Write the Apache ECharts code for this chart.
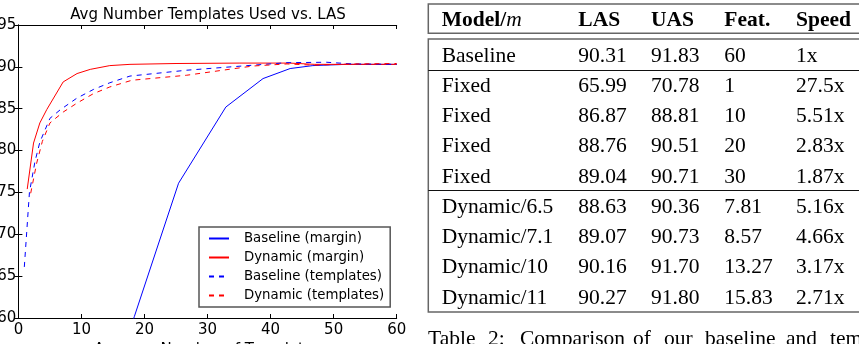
<!DOCTYPE html>
<html>
<head>
<meta charset="utf-8">
<script src="https://cdn.jsdelivr.net/npm/echarts@6/dist/echarts.min.js"></script>
<style>
html,body{margin:0;padding:0;background:#fff;}
#chart{width:859px;height:344px;}
</style>
</head>
<body>
<div id="chart"></div>
<script>
// ---- chart data ----
const chartTitle = 'Avg Number Templates Used vs. LAS';
const xAxisName = 'Average Number of Templates';
const seriesNames = ['Baseline (margin)', 'Dynamic (margin)', 'Baseline (templates)', 'Dynamic (templates)'];
const baselineMargin = [[14, 50.2], [18.4, 60.2], [25.4, 76.1], [32.9, 85.2], [38.8, 88.6], [43.1, 89.8], [46.7, 90.15], [52, 90.3], [60, 90.3]];
const dynamicMargin = [[1.4, 75.4], [2.4, 80.9], [3.4, 83.3], [4.5, 84.9], [7.1, 88.2], [9.3, 89.2], [11.4, 89.7], [14.5, 90.15], [17.7, 90.3], [25, 90.4], [35, 90.45], [43, 90.45], [47, 90.3], [60, 90.3]];
const baselineTemplates = [[0.94, 66.1], [1.75, 75.0], [2.63, 78.7], [3.4, 81.0], [5.0, 83.85], [6.6, 84.85], [9.25, 86.25], [11.9, 87.3], [14.5, 88.1], [17.7, 88.9], [26.7, 89.6], [37.2, 90.2], [42.6, 90.5], [48.9, 90.55], [53, 90.35], [60, 90.3]];
const dynamicTemplates = [[1.95, 74.9], [2.9, 78.5], [3.8, 81.1], [5.0, 83.3], [7.1, 84.6], [9.25, 85.65], [11.9, 86.8], [14.5, 87.6], [18, 88.4], [26.7, 89.0], [37.2, 90.1], [42.6, 90.35], [46.8, 90.2], [53, 90.35], [60, 90.4]];

// ---- table data ----
const tableHeader = ['{b|Model/}{i|m}', 'LAS', 'UAS', 'Feat.', 'Speed'];
const tableModels = ['Baseline', 'Fixed', 'Fixed', 'Fixed', 'Fixed', 'Dynamic/6.5', 'Dynamic/7.1', 'Dynamic/10', 'Dynamic/11'];
const tableLAS = ['90.31', '65.99', '86.87', '88.76', '89.04', '88.63', '89.07', '90.16', '90.27'];
const tableUAS = ['91.83', '70.78', '88.81', '90.51', '90.71', '90.36', '90.73', '91.70', '91.80'];
const tableFeat = ['60', '1', '10', '20', '30', '7.81', '8.57', '13.27', '15.83'];
const tableSpeed = ['1x', '27.5x', '5.51x', '2.83x', '1.87x', '5.16x', '4.66x', '3.17x', '2.71x'];
const captionWords = ['Table', '2:', 'Comparison', 'of', 'our', 'baseline', 'and', 'tem'];

// ---- layout ----
const sans = 'DejaVu Sans';
const serif = 'Liberation Serif';
const colX = [441.7, 578.3, 651, 724.3, 796];
const headerY = 20;
const rowY0 = 56, rowStep = 30.25;
const captionX = [428, 488, 520, 633, 664, 705, 786, 830];
const tFont = 21.5;

const chart = echarts.init(document.getElementById('chart'), null, {renderer: 'canvas'});

const graphic = [];
graphic.push({type: 'text', x: 208, y: 15, style: {text: chartTitle, font: '15px "DejaVu Sans"', fill: '#000', align: 'center', verticalAlign: 'middle'}});
// table boxes
graphic.push({type: 'rect', shape: {x: 428.3, y: 4, width: 480, height: 29.3}, style: {fill: 'none', stroke: '#666', lineWidth: 1.5}});
graphic.push({type: 'rect', shape: {x: 428.3, y: 39, width: 480, height: 273}, style: {fill: 'none', stroke: '#666', lineWidth: 1.5}});
graphic.push({type: 'line', shape: {x1: 428.3, y1: 70.5, x2: 859, y2: 70.5}, style: {stroke: '#111', lineWidth: 1}});
graphic.push({type: 'line', shape: {x1: 428.3, y1: 190.5, x2: 859, y2: 190.5}, style: {stroke: '#111', lineWidth: 1}});
// header
tableHeader.forEach((h, i) => {
  graphic.push({type: 'text', x: colX[i], y: headerY, style: {
    text: h, fontFamily: serif, fontSize: tFont, fontWeight: 'bold', fill: '#000', align: 'left', verticalAlign: 'middle',
    rich: {b: {fontFamily: serif, fontSize: tFont, fontWeight: 'bold', fill: '#000'}, i: {fontFamily: serif, fontSize: tFont, fontStyle: 'italic', fill: '#000'}}
  }});
});
const cols = [tableModels, tableLAS, tableUAS, tableFeat, tableSpeed];
tableModels.forEach((_, r) => {
  cols.forEach((col, c) => {
    graphic.push({type: 'text', x: colX[c], y: rowY0 + r * rowStep, style: {text: col[r], fontFamily: serif, fontSize: tFont, fill: '#000', align: 'left', verticalAlign: 'middle'}});
  });
});
captionWords.forEach((w, i) => {
  graphic.push({type: 'text', x: captionX[i], y: 339, style: {text: w, fontFamily: serif, fontSize: tFont, fill: '#000', align: 'left', verticalAlign: 'middle'}});
});

const axisCommon = {
  axisLine: {show: true, lineStyle: {color: '#000', width: 1}},
  axisTick: {show: true, inside: true, length: 4, lineStyle: {color: '#000'}},
  splitLine: {show: false}
};
const labelStyle = {color: '#000', fontFamily: sans, fontSize: 15};

const mkSeries = (name, data, color, dashed) => ({
  name, type: 'line', data, symbol: 'none', showSymbol: false, clip: true, animation: false,
  lineStyle: {color, width: 1, type: dashed ? [5, 5] : 'solid'},
  itemStyle: {color}
});

chart.setOption({
  animation: false,
  backgroundColor: '#fff',
  grid: {left: 18.4, top: 25, width: 378.3, height: 293, containLabel: false, outerBoundsMode: 'none'},
  xAxis: [
    Object.assign({type: 'value', min: 0, max: 60, interval: 10, position: 'bottom',
      axisLabel: Object.assign({margin: 5}, labelStyle),
      name: xAxisName, nameLocation: 'middle', nameGap: 22,
      nameTextStyle: {color: '#000', fontFamily: sans, fontSize: 15, verticalAlign: 'top'}}, axisCommon),
    Object.assign({type: 'value', min: 0, max: 60, interval: 10, position: 'top', axisLabel: {show: false}}, axisCommon)
  ],
  yAxis: [
    Object.assign({type: 'value', min: 60, max: 95, interval: 5, position: 'left',
      axisLabel: Object.assign({margin: 2}, labelStyle)}, axisCommon),
    Object.assign({type: 'value', min: 60, max: 95, interval: 5, position: 'right', axisLabel: {show: false}}, axisCommon)
  ],
  legend: {
    orient: 'vertical', left: 199, top: 227,
    data: seriesNames,
    itemWidth: 20, itemHeight: 14, itemGap: 6,
    padding: [5, 6, 5, 9],
    borderColor: '#555', borderWidth: 1.5, backgroundColor: '#fff',
    itemStyle: {opacity: 0},
    textStyle: {color: '#000', fontFamily: sans, fontSize: 13.3, padding: [0, 0, 0, 10]}
  },
  series: [
    mkSeries(seriesNames[0], baselineMargin, '#0000ff', false),
    mkSeries(seriesNames[1], dynamicMargin, '#ff0000', false),
    mkSeries(seriesNames[2], baselineTemplates, '#0000ff', true),
    mkSeries(seriesNames[3], dynamicTemplates, '#ff0000', true)
  ],
  graphic: graphic
});
</script>
</body>
</html>
